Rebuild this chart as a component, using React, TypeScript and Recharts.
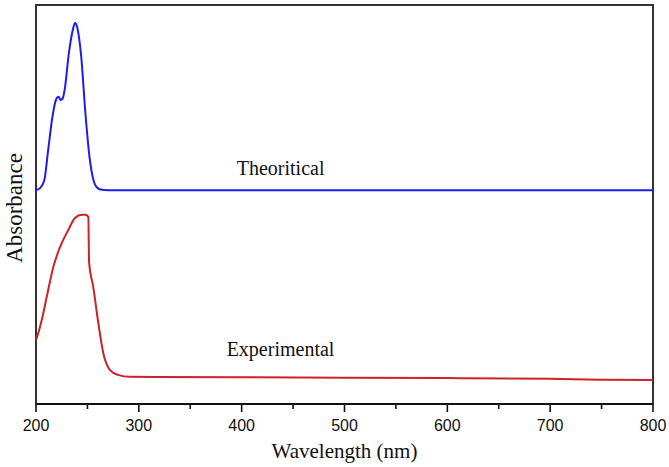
import { Line, LineChart, ReferenceArea, ReferenceDot, XAxis, YAxis } from "recharts";

// UV-Vis absorbance, arbitrary units (0..1 of plot height)
const theoWl = [200, 204, 208, 212, 216, 220, 222, 224, 226, 228, 232, 236, 238, 240, 244, 248, 252, 256, 260, 264, 270, 800];
const theoAbs = [0.536, 0.541, 0.56, 0.64, 0.72, 0.766, 0.77, 0.762, 0.766, 0.79, 0.88, 0.94, 0.955, 0.945, 0.87, 0.73, 0.62, 0.56, 0.541, 0.537, 0.536, 0.536];

const expWl = [200, 203, 206, 210.4, 216.8, 223.3, 231.4, 237.9, 244.4, 248, 250.9, 251.6, 255.7, 260.6, 265.4, 272, 279.7, 291.4, 400, 500, 600, 700, 750, 800];
const expAbs = [0.16, 0.185, 0.215, 0.268, 0.343, 0.393, 0.436, 0.466, 0.474, 0.474, 0.469, 0.356, 0.293, 0.203, 0.128, 0.085, 0.073, 0.068, 0.067, 0.066, 0.065, 0.063, 0.061, 0.06];

const xTicks = [200, 250, 300, 350, 400, 450, 500, 550, 600, 650, 700, 750, 800];

const theoData = theoWl.map((wl, i) => ({ wl, abs: theoAbs[i] }));
const expData = expWl.map((wl, i) => ({ wl, abs: expAbs[i] }));

const serif = "'Liberation Serif', 'Times New Roman', serif";
const sans = "'Liberation Sans', Arial, sans-serif";

function WaveTick({ x, y, payload }: any) {
  const major = payload.value % 100 === 0;
  return (
    <g>
      <line x1={x} x2={x} y1={y} y2={y + (major ? 8 : 5)} stroke="#111" strokeWidth={1.6} />
      {major && (
        <text x={x} y={y + 27} textAnchor="middle" fontFamily={sans} fontSize={16} fill="#111">
          {payload.value}
        </text>
      )}
    </g>
  );
}

const textLabel = (text: string) => (props: any) => {
  const { x, y } = props.viewBox;
  return (
    <text x={x} y={y} fontFamily={serif} fontSize={20} fill="#111">
      {text}
    </text>
  );
};

export default function App() {
  return (
    <div style={{ position: "absolute", left: 0, top: 0, background: "#fff" }}>
      <LineChart width={669} height={467} margin={{ top: 5, right: 16, bottom: 0, left: 0 }}>
        <XAxis
          dataKey="wl"
          type="number"
          domain={[200, 800]}
          ticks={xTicks}
          interval={0}
          height={63}
          tickSize={0}
          tickMargin={0}
          tickLine={false}
          axisLine={{ stroke: "#111", strokeWidth: 2 }}
          tick={<WaveTick />}
          allowDuplicatedCategory={false}
          label={(p: any) => (
            <text x={344.5} y={458} textAnchor="middle" fontFamily={serif} fontSize={21} fill="#111">
              Wavelength (nm)
            </text>
          )}
        />
        <YAxis
          type="number"
          domain={[0, 1]}
          width={36}
          tick={false}
          tickLine={false}
          axisLine={false}
          allowDataOverflow
          label={(p: any) => (
            <text
              x={14}
              y={208}
              transform="rotate(-90, 14, 208)"
              textAnchor="middle"
              dominantBaseline="central"
              fontFamily={serif}
              fontSize={23}
              fill="#111"
            >
              Absorbance
            </text>
          )}
        />
        <ReferenceArea x1={200} x2={800} y1={0} y2={1} fill="none" stroke="#333" strokeWidth={2} />
        <Line
          data={theoData}
          dataKey="abs"
          type="monotone"
          stroke="#1c1cf0"
          strokeWidth={2}
          dot={false}
          isAnimationActive={false}
        />
        <Line
          data={expData}
          dataKey="abs"
          type="monotone"
          stroke="#cc2229"
          strokeWidth={2}
          dot={false}
          isAnimationActive={false}
        />
        <ReferenceDot x={395.2} y={0.574} r={0} fill="none" stroke="none" label={textLabel("Theoritical")} />
        <ReferenceDot x={385.4} y={0.12} r={0} fill="none" stroke="none" label={textLabel("Experimental")} />
      </LineChart>
    </div>
  );
}
